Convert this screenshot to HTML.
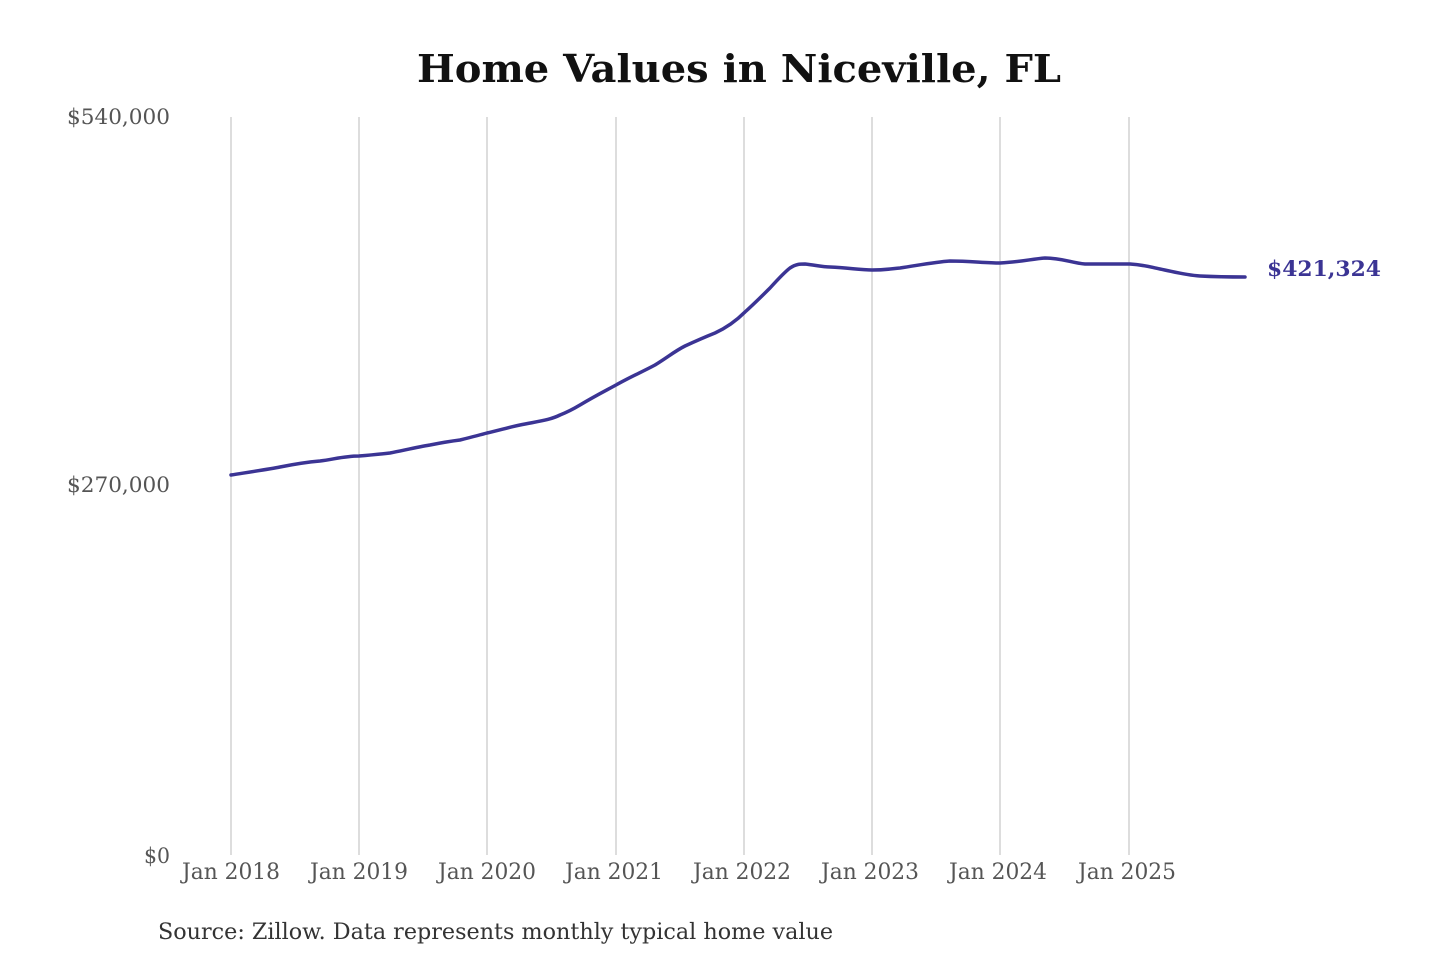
<!DOCTYPE html>
<html><head><meta charset="utf-8"><style>
html,body{margin:0;padding:0;background:#fff;}
svg{display:block;}
text{font-family:"DejaVu Serif","Liberation Serif",serif;}
</style></head><body>
<svg width="1440" height="960" viewBox="0 0 1440 960">
<rect width="1440" height="960" fill="#fff"/>
<text x="739" y="82" text-anchor="middle" font-size="38" font-weight="bold" fill="#111" textLength="644" lengthAdjust="spacingAndGlyphs">Home Values in Niceville, FL</text>
<g stroke="#bbb" stroke-width="1">
<line x1="231" y1="117" x2="231" y2="855"/>
<line x1="359" y1="117" x2="359" y2="855"/>
<line x1="487" y1="117" x2="487" y2="855"/>
<line x1="616" y1="117" x2="616" y2="855"/>
<line x1="744" y1="117" x2="744" y2="855"/>
<line x1="872" y1="117" x2="872" y2="855"/>
<line x1="1000" y1="117" x2="1000" y2="855"/>
<line x1="1129" y1="117" x2="1129" y2="855"/>
</g>
<g font-size="21" fill="#555" text-anchor="end">
<text x="170" y="124" textLength="103" lengthAdjust="spacingAndGlyphs">$540,000</text>
<text x="170" y="492" textLength="103" lengthAdjust="spacingAndGlyphs">$270,000</text>
<text x="170" y="863" textLength="26" lengthAdjust="spacingAndGlyphs">$0</text>
</g>
<g font-size="22" fill="#555" text-anchor="middle">
<text x="231" y="879" textLength="98" lengthAdjust="spacingAndGlyphs">Jan 2018</text>
<text x="359" y="879" textLength="98" lengthAdjust="spacingAndGlyphs">Jan 2019</text>
<text x="487" y="879" textLength="98" lengthAdjust="spacingAndGlyphs">Jan 2020</text>
<text x="614" y="879" textLength="98" lengthAdjust="spacingAndGlyphs">Jan 2021</text>
<text x="742" y="879" textLength="98" lengthAdjust="spacingAndGlyphs">Jan 2022</text>
<text x="870" y="879" textLength="98" lengthAdjust="spacingAndGlyphs">Jan 2023</text>
<text x="998" y="879" textLength="98" lengthAdjust="spacingAndGlyphs">Jan 2024</text>
<text x="1127" y="879" textLength="98" lengthAdjust="spacingAndGlyphs">Jan 2025</text>
</g>
<path fill="none" stroke="#3b3494" stroke-width="3.5" stroke-linejoin="round" stroke-linecap="round"
d="M231,475 C250,472 270,469 280,467 C295,464 308,462 320,461 C335,459 345,456 359,456 C372,455 382,454 390,453 C405,450 418,447 430,445 C445,442 452,441 460,440 C472,437 480,435 487,433 C500,430 510,427 520,425 C540,421 550,420 560,415 C570,411 575,408 580,405 C595,396 605,391 616,385 C630,377 642,372 655,365 C668,357 675,351 685,346 C698,340 705,337 715,333 C728,327 737,320 745,312 C755,303 763,295 770,288 C780,277 786,271 790,268 C796,264 800,264 805,264 C815,265 822,267 830,267 C850,268 860,270 872,270 C885,270 890,269 900,268 C920,265 935,262 950,261 C970,261 985,263 1000,263 C1020,262 1032,259 1045,258 C1062,258 1072,263 1085,264 C1100,264 1115,264 1130,264 C1145,265 1150,267 1160,269 C1175,272 1185,275 1200,276 C1220,277 1235,277 1245,277"/>
<text x="1267" y="276" font-size="21" font-weight="bold" fill="#3b3494" textLength="114" lengthAdjust="spacingAndGlyphs">$421,324</text>
<text x="158" y="939" font-size="22" fill="#333" textLength="675" lengthAdjust="spacingAndGlyphs">Source: Zillow. Data represents monthly typical home value</text>
</svg>
</body></html>
